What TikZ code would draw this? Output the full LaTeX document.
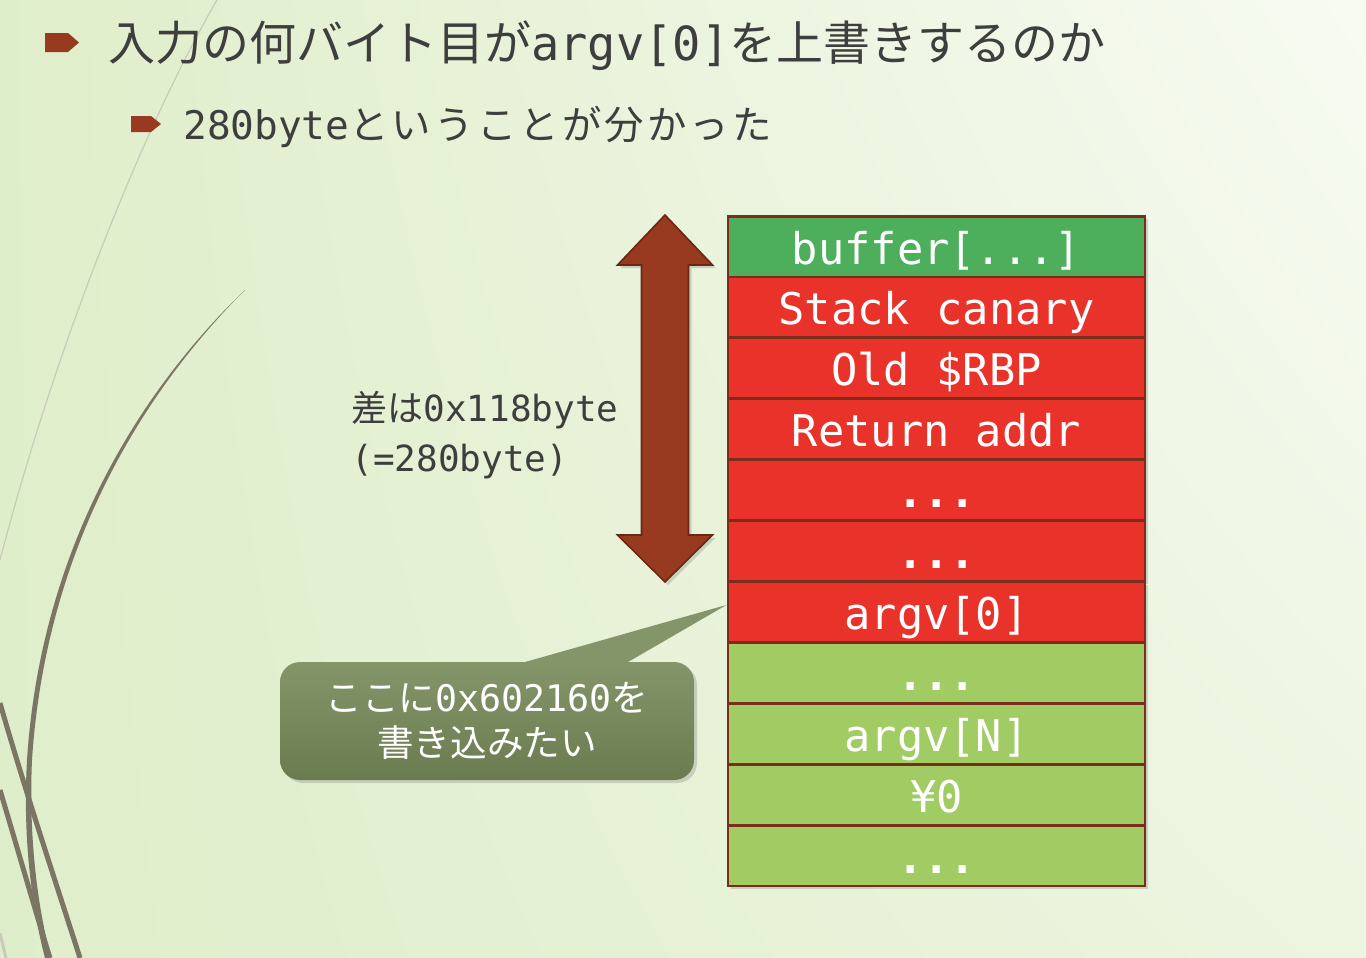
\documentclass[tikz,border=0pt]{standalone}
\usepackage{fontspec}
\usepackage{tikz}
\usetikzlibrary{positioning,calc,shadows,shadings}
\newfontfamily\jp{Noto Sans CJK JP}
\newfontfamily\jpwide[LetterSpace=8]{Noto Sans CJK JP}
\newfontfamily\mono{DejaVu Sans Mono}
\definecolor{ink}{HTML}{3E3E3E}
\definecolor{rust}{HTML}{973A20}
\definecolor{rustdark}{HTML}{6B2715}
\definecolor{edge}{HTML}{7B2D1B}
\definecolor{bufgreen}{HTML}{4DAE5B}
\definecolor{hotred}{HTML}{E8322A}
\definecolor{leaf}{HTML}{A1CC63}
\definecolor{olivetop}{HTML}{849669}
\definecolor{olivebot}{HTML}{6A7B50}
\definecolor{stem}{HTML}{7B7563}
\definecolor{stemlight}{HTML}{C9CBB8}

\begin{document}
\begin{tikzpicture}[x=0.5pt,y=-0.5pt,
 cell/.style={draw=edge,line width=1.4pt,minimum width=208.5pt,minimum height=30.4pt,
 inner sep=0pt,text=white,font=\fontsize{21.85}{24}\mono,text height=18.5pt,text depth=1pt,
 drop shadow={shadow xshift=1.5pt,shadow yshift=-1.5pt,opacity=0.3}},
 bufcell/.style={cell,fill=bufgreen},
 hotcell/.style={cell,fill=hotred},
 lowcell/.style={cell,fill=leaf},
 dots/.style={font=\fontsize{21.85}{24}\mono\bfseries},
 bigarrow/.style={fill=rust,draw=rustdark,line width=0.8pt,
 drop shadow={shadow xshift=1.5pt,shadow yshift=-1.5pt,opacity=0.3}},
 callout/.style={rounded corners=10pt,minimum width=207pt,minimum height=59pt,
 top color=olivetop,bottom color=olivebot,text=white,align=center,
 font=\fontsize{18.3}{22.5}\jp,
 drop shadow={shadow xshift=1.5pt,shadow yshift=-1.5pt,opacity=0.3}}]
\useasboundingbox (0,0) rectangle (1366,958);
% background
\shade[upper left=white!66!leaf,upper right=white!92!leaf,
 lower left=white!66!leaf,lower right=white!80!leaf] (0,0) rectangle (1366,958);
% stems on the left
\draw[stemlight,line width=0.6pt] (217,0) .. controls (150,115) and (60,330) .. (0,560);
\fill[stem] (245,290) .. controls (130,400) and (40,560) .. (27,760)
 .. controls (22,850) and (35,920) .. (45,958) -- (51,958)
 .. controls (41,920) and (28,850) .. (32,760)
 .. controls (45,560) and (133,402) .. (245,290) -- cycle;
\draw[stem,line width=2.5pt] (0,703) .. controls (25,790) and (55,880) .. (80,958);
\draw[stem,line width=2.5pt] (0,790) .. controls (18,850) and (35,910) .. (50,958);
\draw[stemlight,line width=1.5pt] (0,933) -- (6,958);

% heading
\fill[rust] (45,33) -- (68,33) -- (79,42.5) -- (68,52) -- (45,52) -- cycle;
\node[anchor=base west,inner sep=0pt,text=ink,font=\fontsize{23.5}{28}\jp] (title) at (108,60)
 {入力の何バイト目が{\mono argv[0]}を上書きするのか};
\fill[rust] (131,116) -- (151,116) -- (161,124) -- (151,132) -- (131,132) -- cycle;
\node[anchor=base west,inner sep=0pt,text=ink,font=\fontsize{19.7}{24}\jpwide] (sub) at (183,139)
 {{\mono 280byte}ということが分かった};

% stack
\node[bufcell] (r0) at (936.5,246.5) {buffer[...]};
\node[hotcell] (r1) at (936.5,307.4) {Stack canary};
\node[hotcell] (r2) at (936.5,368.3) {Old \$RBP};
\node[hotcell] (r3) at (936.5,429.2) {Return addr};
\node[hotcell,dots] (r4) at (936.5,490.1) {...};
\node[hotcell,dots] (r5) at (936.5,551.0) {...};
\node[hotcell] (r6) at (936.5,611.9) {argv[0]};
\node[lowcell,dots] (r7) at (936.5,672.8) {...};
\node[lowcell] (r8) at (936.5,733.7) {argv[N]};
\node[lowcell] (r9) at (936.5,794.6) {¥0};
\node[lowcell,dots] (r10) at (936.5,855.5) {...};

% distance arrow
\coordinate (up) at (665,215);
\coordinate (dn) at (665,582);
\filldraw[bigarrow] (up) -- ++(47.5,50) -- ++(-24,0) -- ($(dn)+(23.5,-47)$) -- ++(24,0)
 -- (dn) -- ++(-47.5,-47) -- ++(24,0) -- ($(up)+(-23.5,50)$) -- ++(-24,0) -- cycle;
\node[anchor=west,inner sep=0pt,text=ink,align=left,font=\fontsize{18}{25}\jp] (gap) at (351,435)
 {差は{\mono 0x118byte}\\{\mono (=280byte)}};

% callout
\coordinate (tip) at ($(r6.west)+(0,-7)$);
\node[callout] (cl) at (487,721) {ここに{\mono 0x602160}を\\書き込みたい};
\fill[olivetop] ($(cl.north)+(36,1)$) -- (tip) -- ($(cl.north)+(140,1)$) -- cycle;
\end{tikzpicture}
\end{document}
